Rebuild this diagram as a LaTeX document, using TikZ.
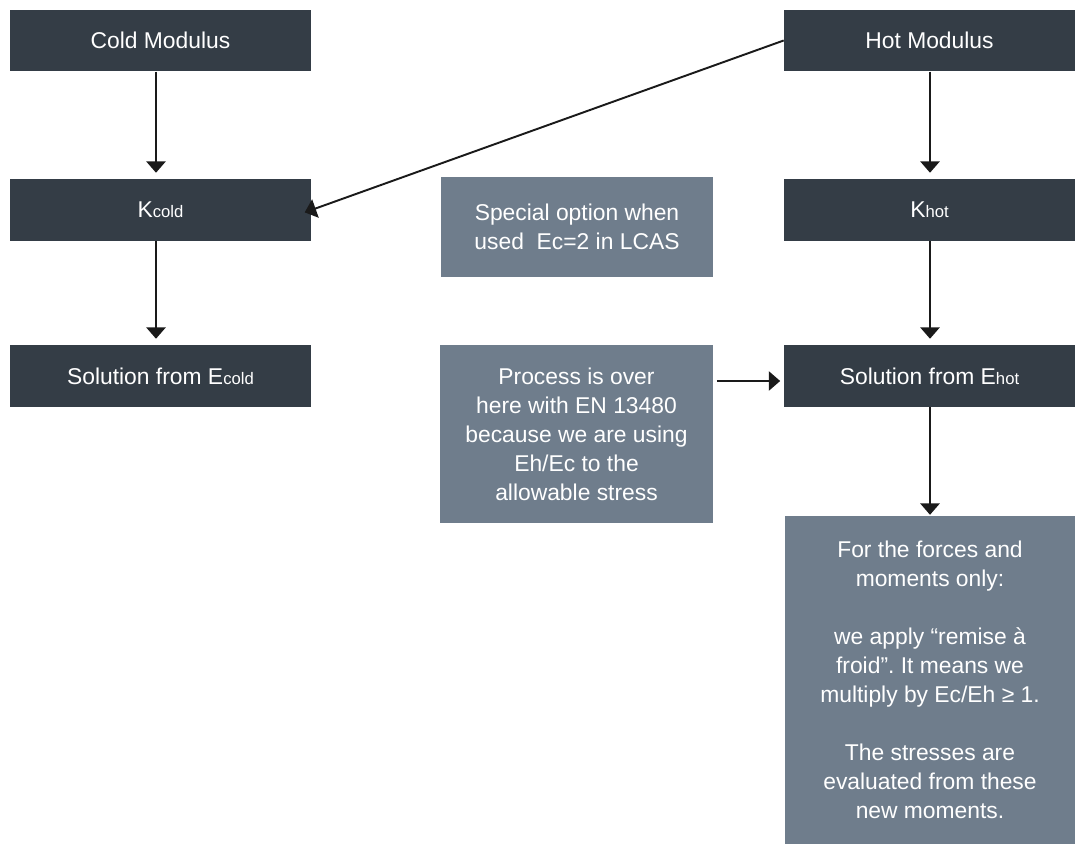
\documentclass[tikz,border=0pt]{standalone}
\usepackage{fontspec}
\setmainfont{Liberation Sans}
\usetikzlibrary{arrows.meta}
\definecolor{boxdark}{RGB}{52,61,70}
\definecolor{boxlight}{RGB}{111,125,140}
\definecolor{linedark}{RGB}{26,26,26}
\newcommand{\smalltxt}[1]{{\fontsize{9.5}{10}\selectfont #1}}
\frenchspacing
\begin{document}
\begin{tikzpicture}[x=0.02cm, y=-0.02cm,
    every node/.style={font=\fontsize{13}{16.5}\selectfont, text=white, inner sep=0pt},
    darkbox/.style={fill=boxdark, minimum height=1.23cm},
    lightbox/.style={fill=boxlight, align=center},
    flow/.style={draw=linedark, line width=1.1pt, -{Triangle[width=11pt,length=6.5pt]}, shorten >=3.5pt}]
    \useasboundingbox (0,0) rectangle (1075,844);
    \node[darkbox, minimum width=6.02cm] (cold) at (160.5,40.5) {Cold Modulus};
    \node[darkbox, minimum width=6.02cm] (kcold) at (160.5,210) {K\smalltxt{cold}};
    \node[darkbox, minimum width=6.02cm] (solcold) at (160.5,376) {Solution from E\smalltxt{cold}};
    \node[darkbox, minimum width=5.82cm] (hot) at (929.5,40.5) {Hot Modulus};
    \node[darkbox, minimum width=5.82cm] (khot) at (929.5,210) {K\smalltxt{hot}};
    \node[darkbox, minimum width=5.82cm] (solhot) at (929.5,376) {Solution from E\smalltxt{hot}};
    \node[lightbox, minimum width=5.44cm, minimum height=2cm] (special) at (577,227) {Special option when\\used\ \ Ec=2 in LCAS};
    \node[lightbox, minimum width=5.46cm, minimum height=3.56cm] (process) at (576.5,434) {Process is over\\here with EN 13480\\because we are using\\Eh/Ec to the\\allowable stress};
    \node[lightbox, minimum width=5.8cm, minimum height=6.56cm] (forces) at (930,680) {For the forces and\\moments only:\\ \mbox{}\\we apply “remise à\\froid”. It means we\\multiply by Ec/Eh ≥ 1.\\ \mbox{}\\The stresses are\\evaluated from these\\new moments.};
    \draw[flow] ([xshift=-0.09cm]cold.south) -- ([xshift=-0.09cm]kcold.north);
    \draw[flow] ([xshift=-0.09cm]kcold.south) -- ([xshift=-0.09cm]solcold.north);
    \draw[flow] ([xshift=0.01cm]hot.south) -- ([xshift=0.01cm]khot.north);
    \draw[flow] ([xshift=0.01cm]khot.south) -- ([xshift=0.01cm]solhot.north);
    \draw[flow, shorten >=0.5pt] ([xshift=0.01cm]solhot.south) -- (forces.north);
    \draw[flow, shorten >=-4pt] (hot.west) -- (kcold.east);
    \draw[flow, shorten <=2pt, shorten >=2pt] ([yshift=-0.1cm]process.east |- solhot.west) -- ([yshift=-0.1cm]solhot.west);
\end{tikzpicture}
\end{document}
